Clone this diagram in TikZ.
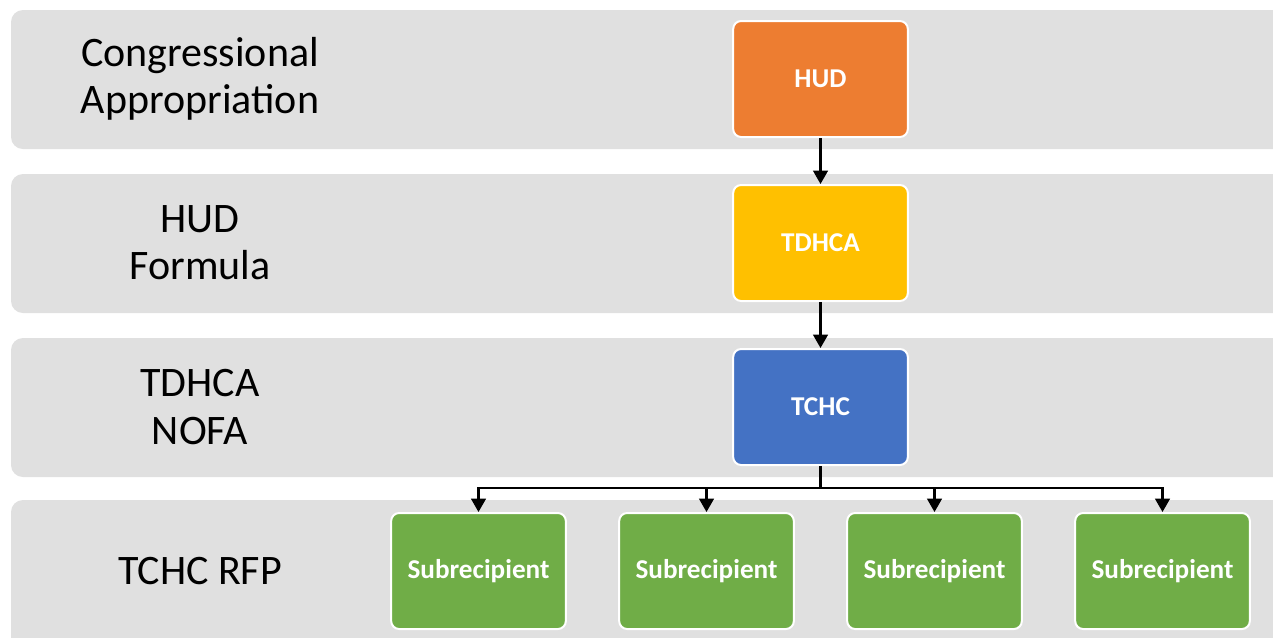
\documentclass[tikz,border=0pt]{standalone}
\usepackage{fontspec}
\setmainfont{Carlito}
\usetikzlibrary{arrows.meta}
\definecolor{bandgray}{HTML}{E0E0E0}
\definecolor{cOrange}{HTML}{ED7D31}
\definecolor{cYellow}{HTML}{FFC000}
\definecolor{cBlue}{HTML}{4472C4}
\definecolor{cGreen}{HTML}{70AD47}
\tikzset{
  band/.style={fill=bandgray, draw=none, rounded corners=9pt},
  bandlabel/.style={align=center, font=\fontsize{31.5}{35.5}\selectfont, text=black, inner sep=0pt},
  orgbox/.style={draw=white, line width=1.5pt, rounded corners=6pt, minimum width=131pt, minimum height=87pt, inner sep=0pt, text=white, font=\bfseries\fontsize{20.4}{24}\selectfont},
  arr/.style={draw=black, line width=1.6pt, -{Triangle[width=11pt,length=10pt]}},
  conn/.style={draw=black, line width=1.6pt}
}
\begin{document}
\begin{tikzpicture}[x=0.75pt,y=-0.75pt]
\useasboundingbox (0,0) rectangle (1273,637);
\clip (0,0) rectangle (1273,637);
\fill[white] (0,0) rectangle (1273,637);
% bands
\path[band] (11,10) rectangle (1285,149);
\path[band] (11,174) rectangle (1285,313);
\path[band] (11,338) rectangle (1285,477);
\path[band] (11,500) rectangle (1285,660);
% labels
\node[bandlabel] (l1) at (200,79) {Congressional\\Appropriation};
\node[bandlabel] (l2) at (200,243) {HUD\\Formula};
\node[bandlabel] (l3) at (200,407) {TDHCA\\NOFA};
\node[bandlabel] (l4) at (200,571) {TCHC RFP};
% boxes
\node[orgbox, fill=cOrange] (hud) at (820.5,79) {HUD};
\node[orgbox, fill=cYellow] (tdhca) at (820.5,243) {TDHCA};
\node[orgbox, fill=cBlue] (tchc) at (820.5,407) {TCHC};
\node[orgbox, fill=cGreen] (s1) at (478.5,571) {Subrecipient};
\node[orgbox, fill=cGreen] (s2) at (706.5,571) {Subrecipient};
\node[orgbox, fill=cGreen] (s3) at (934.5,571) {Subrecipient};
\node[orgbox, fill=cGreen] (s4) at (1162.5,571) {Subrecipient};
% connectors
\draw[arr] (hud.south) -- (tdhca.north);
\draw[arr] (tdhca.south) -- (tchc.north);
\coordinate (j) at (820.5,488);
\draw[conn] (tchc.south) -- (j);
\draw[arr] (j) -| (s1.north);
\draw[arr] (j) -| (s2.north);
\draw[arr] (j) -| (s3.north);
\draw[arr] (j) -| (s4.north);
\end{tikzpicture}
\end{document}
